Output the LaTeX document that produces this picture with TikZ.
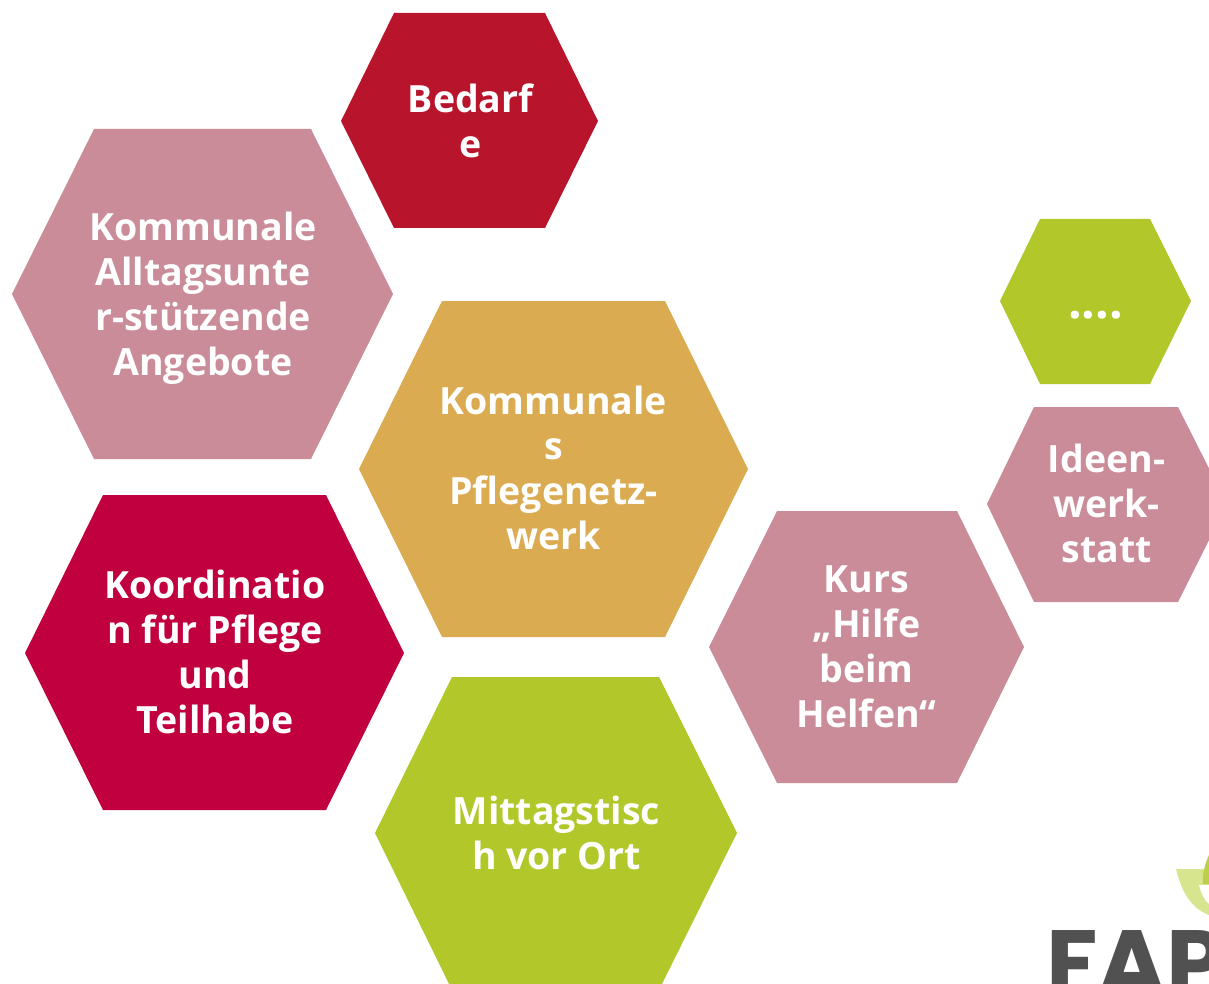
\documentclass[tikz,border=0pt]{standalone}
\usepackage{fontspec}
\setmainfont{Open Sans}
\newfontfamily\logofont{Poppins}
\definecolor{hexred}{HTML}{B8152C}
\definecolor{hexrose}{HTML}{C98C98}
\definecolor{hexgold}{HTML}{DBAB52}
\definecolor{hexcrimson}{HTML}{C10040}
\definecolor{hexgreen}{HTML}{B1C72A}
\definecolor{leaflight}{HTML}{D8E58F}
\definecolor{logogrey}{HTML}{515151}
\tikzset{
  hexlabel/.style={text=white,font=\fontsize{37.5}{45}\selectfont\bfseries,align=center,inner sep=0pt},
  dotlabel/.style={text=white,font=\fontsize{48}{48}\selectfont\bfseries,anchor=base,inner sep=0pt},
  logotext/.style={text=logogrey,font=\logofont\fontsize{94}{94}\selectfont\bfseries,anchor=base west,inner sep=0pt}
}
% #1 colour, #2..#5 x positions, #6..#8 y positions
\newcommand{\hexa}[8]{\fill[#1] (#2,#7) -- (#3,#6) -- (#4,#6) -- (#5,#7) -- (#4,#8) -- (#3,#8) -- cycle;}
\begin{document}
\begin{tikzpicture}[x=1pt,y=-1pt]
\useasboundingbox (0,0) rectangle (1209,984);
\clip (0,0) rectangle (1209,984);
\hexa{hexred}{341}{394}{545}{598}{13}{121}{228}
\hexa{hexrose}{12}{94}{311}{393}{129}{294}{459}
\hexa{hexgold}{359}{442}{665}{748}{301}{469}{637}
\hexa{hexcrimson}{25}{103}{326}{404}{495}{653}{810}
\hexa{hexgreen}{375}{452}{659}{737}{677}{833}{990}
\hexa{hexrose}{709}{777}{957}{1024}{511}{647}{783}
\hexa{hexrose}{987}{1034}{1178}{1227}{407}{504}{602}
\hexa{hexgreen}{1000}{1040}{1150}{1191}{219}{301}{384}
\node[hexlabel] (bedarf) at (470.5,120.5) {Bedarf\\e};
\node[hexlabel] (alltag) at (203,298) {Kommunale\\Alltagsunte\\r-stützende\\Angebote};
\node[hexlabel] (pflege) at (553.5,468) {Kommunale\\s\\Pflegenetz-\\werk};
\node[hexlabel] (koord) at (215,652) {Koordinatio\\n für Pflege\\und\\Teilhabe};
\node[hexlabel] (mittag) at (556.5,832.5) {Mittagstisc\\h vor Ort};
\node[hexlabel] (kurs) at (866.5,646.7) {Kurs\\„Hilfe\\beim\\Helfen“};
\node[hexlabel] (ideen) at (1106.5,503) {Ideen-\\werk-\\statt};
\node[dotlabel] (dots) at (1095.5,318) {....};
% logo
\fill[leaflight] (1176,869) -- (1209,869) -- (1209,915) .. controls (1190,908) and (1181,890) .. (1176,869) -- cycle;
\fill[hexgreen!85!white] (1209,855) .. controls (1204,866) and (1202,876) .. (1203,884) -- (1209,884) -- cycle;
\fill[white] (1199,885) -- (1209,885) -- (1209,904) .. controls (1204,900) and (1201,893) .. (1199,885) -- cycle;
\node[logotext] (fap) at (1046,996) {FAP};
\end{tikzpicture}
\end{document}
